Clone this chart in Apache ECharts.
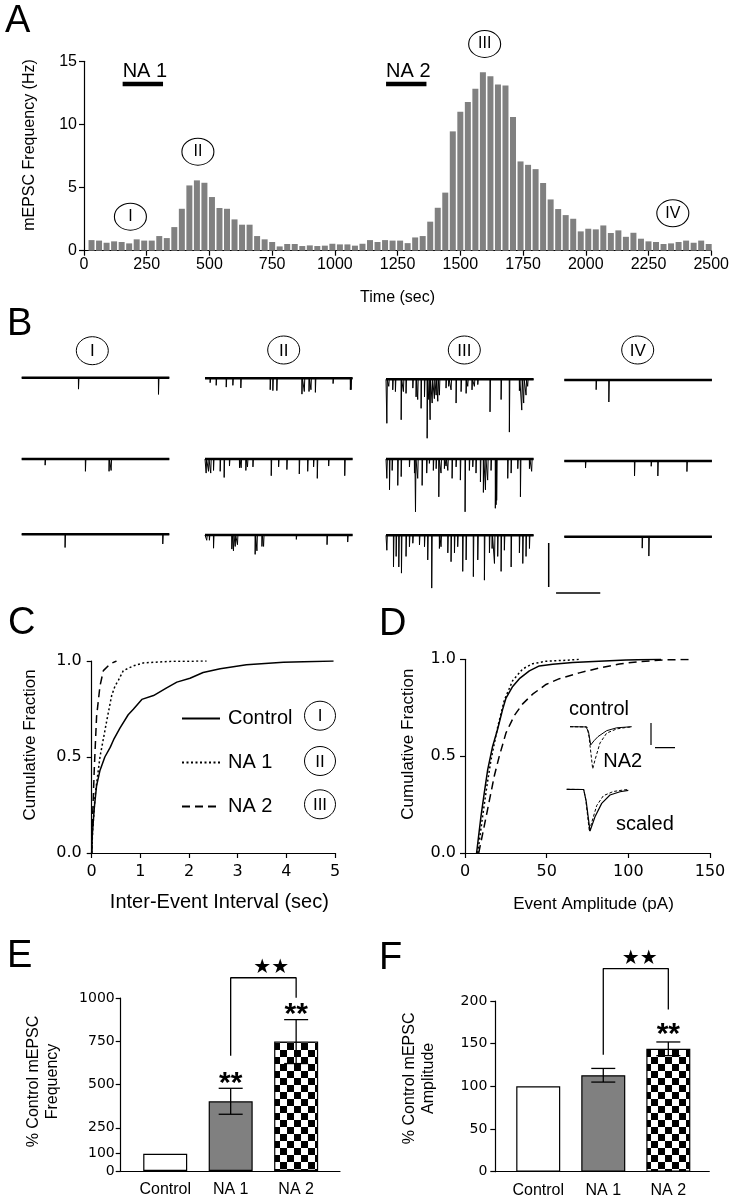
<!DOCTYPE html>
<html><head><meta charset="utf-8">
<script src="https://cdn.jsdelivr.net/npm/echarts@6/dist/echarts.min.js"></script>
<style>html,body{margin:0;padding:0;background:#fff}#c{width:732px;height:1199px}</style>
</head><body><div id="c"></div>
<script>
// ===== Panel A: mEPSC frequency histogram (30 s bins) =====
const binTimes = [30,60,90,120,150,180,210,240,270,300,330,360,390,420,450,480,510,540,570,600,630,660,690,720,750,780,810,840,870,900,930,960,990,1020,1050,1080,1110,1140,1170,1200,1230,1260,1290,1320,1350,1380,1410,1440,1470,1500,1530,1560,1590,1620,1650,1680,1710,1740,1770,1800,1830,1860,1890,1920,1950,1980,2010,2040,2070,2100,2130,2160,2190,2220,2250,2280,2310,2340,2370,2400,2430,2460,2490];
const freqHz = [0.84,0.8,0.63,0.74,0.69,0.58,0.9,0.8,0.8,1.16,1.0,1.87,3.32,5.17,5.57,5.38,4.25,3.38,3.32,2.48,2.06,2.06,1.16,0.9,0.69,0.34,0.53,0.53,0.37,0.42,0.37,0.4,0.55,0.5,0.5,0.4,0.55,0.84,0.69,0.84,0.8,0.8,0.6,1.05,1.16,2.3,3.4,4.6,9.45,11.0,11.77,12.82,14.14,13.82,13.17,13.09,10.58,7.07,6.8,6.46,5.36,4.06,3.3,2.82,2.53,1.53,1.74,1.69,2.0,1.4,1.61,1.1,1.42,0.95,0.74,0.69,0.53,0.58,0.69,0.8,0.63,0.8,0.53];
const naNames = ['NA 1','NA 2'];
const naStart = [154, 1204];
const naEnd = [315, 1365];
const naLevel = 13.2;
const epochNames = ['I','II','III','IV'];
const epochTime = [185, 454, 1597, 2347];
const epochLevel = [2.69, 7.84, 16.37, 2.96];

// ===== Panel B: example traces, spikes as [time ms, amplitude pA] =====
const spikesI = [
 [[384,13],[926,19]],
 [[158,7],[431,14],[591,14],[605,13]],
 [[293,15],[955,11]]
];
const spikesII = [
 [[34,5],[75,8],[143,10],[188,8],[242,11],[441,13],[459,14],[486,14],[656,18],[672,15],[704,15],[717,13],[747,16],[867,6],[984,13],[989,13]],
 [[7,16],[23,14],[38,16],[57,13],[102,14],[129,21],[165,8],[233,10],[244,10],[276,13],[287,9],[324,9],[448,19],[498,9],[554,12],[638,17],[695,14],[735,9],[760,22],[837,8],[946,19]],
 [[11,6],[29,6],[57,15],[181,16],[192,18],[204,13],[219,11],[339,22],[351,18],[385,13],[396,13],[618,5],[826,11],[966,8]]
];
const spikesIII = [
 [[5,50],[18,8],[45,12],[63,14],[102,46],[117,14],[135,16],[181,10],[203,20],[214,23],[237,33],[260,20],[278,67],[289,23],[298,46],[312,27],[327,22],[339,18],[350,25],[361,18],[406,10],[424,8],[440,12],[474,27],[508,14],[542,16],[553,8],[582,12],[598,8],[621,6],[704,37],[779,23],[835,60],[903,13],[919,35],[932,27],[948,18],[959,8]],
 [[5,22],[23,35],[41,13],[79,30],[102,20],[158,9],[192,16],[199,60],[214,22],[244,30],[275,16],[293,5],[320,13],[339,11],[357,43],[372,16],[395,11],[406,8],[418,13],[447,22],[474,9],[503,24],[535,60],[564,13],[587,9],[609,16],[639,26],[659,38],[673,35],[688,24],[711,13],[740,56],[745,52],[749,47],[824,22],[847,16],[892,11],[910,43],[971,11],[986,14]],
 [[5,17],[50,36],[68,24],[86,36],[104,43],[135,24],[158,13],[181,9],[226,11],[260,13],[282,28],[309,60],[361,15],[372,13],[418,20],[440,30],[463,20],[485,13],[519,41],[542,28],[591,47],[621,28],[666,51],[700,20],[718,15],[734,32],[756,24],[779,41],[801,17],[847,36],[903,20],[926,32],[948,24],[971,15]]
];
const spikesIV = [
 [[215,11],[301,25]],
 [[143,8],[475,17],[588,6],[633,17],[830,12]],
 [[527,13],[572,22]]
];
const traceScalePA = 50;
const traceScaleMs = 300;

// ===== Panel C: inter-event interval cumulative fractions =====
const ieiControl = [[0,0],[0.014,0.10],[0.055,0.24],[0.10,0.35],[0.17,0.43],[0.27,0.50],[0.38,0.55],[0.45,0.59],[0.58,0.65],[0.75,0.72],[0.86,0.75],[1.03,0.80],[1.27,0.82],[1.54,0.86],[1.75,0.89],[2.02,0.91],[2.29,0.94],[2.64,0.96],[3.18,0.98],[3.94,0.993],[4.97,1.0]];
const ieiNA1 = [[0,0],[0.02,0.12],[0.07,0.3],[0.17,0.5],[0.31,0.69],[0.41,0.82],[0.48,0.87],[0.55,0.9],[0.65,0.95],[0.86,0.975],[1.06,0.99],[1.6,0.998],[2.36,1.0]];
const ieiNA2 = [[0,0],[0.02,0.2],[0.055,0.45],[0.10,0.71],[0.17,0.87],[0.24,0.95],[0.38,0.985],[0.51,1.0]];
const legendNames = ['Control','NA 1','NA 2'];

// ===== Panel D: event amplitude cumulative fractions + averaged events =====
const ampControl = [[7.1,0],[9.8,0.19],[11.8,0.31],[13.9,0.43],[16.9,0.55],[20,0.64],[23,0.74],[25.1,0.8],[29.2,0.86],[33.3,0.9],[39.4,0.94],[45.5,0.966],[53.7,0.974],[65.9,0.983],[82,0.99],[98.6,0.997],[120,1.0]];
const ampNA1 = [[7.8,0],[10.8,0.19],[13.3,0.34],[15.9,0.48],[20,0.65],[24.1,0.79],[29.2,0.89],[35.3,0.95],[41.4,0.977],[49.6,0.99],[61.8,0.995],[70,1.0]];
const ampNA2 = [[8.4,0],[11.8,0.14],[14.9,0.27],[18,0.4],[21,0.5],[25.1,0.62],[30.2,0.71],[35.3,0.77],[41.4,0.82],[49.6,0.87],[57.8,0.9],[70,0.93],[82.2,0.955],[94.5,0.976],[106.7,0.988],[123,0.997],[139.4,1.0]];
const wfControl = [[0,0],[8,-0.1],[9.25,-2.3],[10.35,-8.3],[12,-6.4],[14,-4.5],[18.35,-1.8],[23.35,-0.5],[30.85,0]];
const wfNA2 = [[0,0],[8.5,-0.1],[9.5,-4.5],[11.35,-19.2],[12.5,-15.1],[15,-7.4],[18.35,-2.9],[23.35,-1.0],[28.35,-0.3],[30.85,-0.1]];
const wfScaled = [[0,0],[8.5,-0.1],[9.75,-5.5],[11.65,-19.0],[14.15,-12.5],[17.5,-6.4],[21.65,-2.6],[26.65,-1.1],[30.8,-0.5]];
const insetScalePA = 10;
const insetScaleMs = 10;

// ===== Panels E, F: % control bars =====
const groups = ['Control','NA 1','NA 2'];
const freqPct = [100, 403, 748];
const freqSem = [0, 75, 127];
const ampPct = [100, 113, 144];
const ampSem = [0, 8, 8];
const sigMarks = ['', '**', '**'];
const sigMarksF = ['', '', '**'];
const bracketE = [666, 1117, 1002];
const bracketF = [137, 238, 190];
const pairStarE = [2.62, 1176];
const pairStarF = [2.56, 249];

// ================= layout / styling =================
const FM = "'Liberation Sans', Arial, Helvetica, sans-serif";
const FN = "'DejaVu Sans', 'Liberation Sans', sans-serif";
const BLACK = '#000';
const plain = v => String(v);
const axLine = {show:true, onZero:false, lineStyle:{color:BLACK, width:1.2}};
const axTick = {show:true, inside:false, length:5, lineStyle:{color:BLACK, width:1.2}};
const noSplit = {show:false};

const grids = [], xAxes = [], yAxes = [], series = [];
function addGrid(g){ grids.push(g); return grids.length-1; }
function hiddenAxes(gi, xmin, xmax, ymin, ymax){
  xAxes.push({gridIndex:gi, type:'value', min:xmin, max:xmax, show:false});
  yAxes.push({gridIndex:gi, type:'value', min:ymin, max:ymax, show:false});
  return xAxes.length-1;
}

// ---- Panel A
const gA = addGrid({left:84, top:61.3, width:630.3, height:189.4});
xAxes.push({gridIndex:gA, type:'value', min:0, max:2500, interval:250, axisLine:axLine, axisTick:axTick, splitLine:noSplit,
  axisLabel:{fontFamily:FM, fontSize:16, color:BLACK, margin:6, formatter:plain},
  name:'Time (sec)', nameLocation:'middle', nameGap:39, nameTextStyle:{fontFamily:FM, fontSize:16, color:BLACK}});
yAxes.push({gridIndex:gA, type:'value', min:0, max:15, interval:5, axisLine:axLine, axisTick:axTick, splitLine:noSplit,
  axisLabel:{fontFamily:FM, fontSize:16, color:BLACK, margin:7, formatter:plain},
  name:'mEPSC Frequency (Hz)', nameLocation:'middle', nameGap:46, nameRotate:90,
  nameTextStyle:{fontFamily:FM, fontSize:16, color:BLACK, padding:[0,0,0,22]}});
series.push({type:'bar', xAxisIndex:gA, yAxisIndex:gA, barWidth:6, data:binTimes.map((t,i)=>[t,freqHz[i]]),
  itemStyle:{color:'#808080'}, silent:true});
naNames.forEach((n,i)=>{
  series.push({type:'line', xAxisIndex:gA, yAxisIndex:gA, symbol:'none', clip:false, silent:true,
    data:[[naStart[i],naLevel],[naEnd[i],naLevel]], lineStyle:{color:BLACK, width:4.5}});
  series.push({type:'scatter', xAxisIndex:gA, yAxisIndex:gA, symbolSize:0, clip:false, silent:true,
    itemStyle:{opacity:1}, data:[[naStart[i],naLevel]],
    label:{show:true, formatter:n, position:[0,-3], align:'left', verticalAlign:'bottom', fontFamily:FM, fontSize:20, color:BLACK}});
});
series.push({type:'scatter', xAxisIndex:gA, yAxisIndex:gA, clip:false, silent:true, z:5,
  symbol:'circle', symbolSize:[32,27],
  itemStyle:{color:'#fff', borderColor:BLACK, borderWidth:1, opacity:1},
  data:epochNames.map((n,i)=>({name:n, value:[epochTime[i], epochLevel[i]]})),
  label:{show:true, position:'inside', formatter:'{b}', fontFamily:FM, fontSize:16, color:BLACK}});

// ---- Panel B traces
const colSpikes = [spikesI, spikesII, spikesIII, spikesIV];
const colLeft = [21.7, 205, 386, 564.3];
const colBase = [[377.7,459,534.3],[378.3,459,535],[379.3,459,535.3],[380,461,536.7]];
const pxPerPA = 0.88;
function traceLine(sp){
  const pts=[[0,0]];
  sp.forEach(([t,a])=>{ pts.push([t,0],[t+0.8,-a],[t+4,0]); });
  pts.push([1000,0]);
  return pts;
}
colSpikes.forEach((col,c)=>{
  col.forEach((sp,r)=>{
    const gi = addGrid({left:colLeft[c], top:colBase[c][r]-5*pxPerPA, width:147.6, height:75*pxPerPA});
    const ai = hiddenAxes(gi, 0, 1000, -70, 5);
    series.push({type:'line', xAxisIndex:ai, yAxisIndex:ai, symbol:'none', silent:true, clip:false,
      data:[[0,0],[1000,0]], lineStyle:{color:BLACK, width:2.6}});
    series.push({type:'line', xAxisIndex:ai, yAxisIndex:ai, symbol:'none', silent:true, clip:false,
      data:traceLine(sp), lineStyle:{color:BLACK, width:1}});
  });
});
// B scale bars
{
  const gi = addGrid({left:548.7, top:543, width:52.3, height:44});
  const ai = hiddenAxes(gi, 0, 355, -traceScalePA, 0);
  series.push({type:'line', xAxisIndex:ai, yAxisIndex:ai, symbol:'none', silent:true, clip:false,
    data:[[0,0],[0,-traceScalePA]], lineStyle:{color:BLACK, width:1.5}});
  series.push({type:'line', xAxisIndex:ai, yAxisIndex:ai, symbol:'none', silent:true, clip:false,
    data:[[50,-56.8],[50+traceScaleMs,-56.8]], lineStyle:{color:BLACK, width:1.5}});
}

// ---- Panel C
const gC = addGrid({left:91.7, top:661, width:243.3, height:192});
xAxes.push({gridIndex:gC, type:'value', min:0, max:5, interval:1, axisLine:axLine, axisTick:axTick, splitLine:noSplit,
  axisLabel:{fontFamily:FN, fontSize:16, color:BLACK, margin:11},
  name:'Inter-Event Interval (sec)', nameLocation:'middle', nameGap:39,
  nameTextStyle:{fontFamily:FM, fontSize:20, color:BLACK, padding:[0,0,0,12]}});
yAxes.push({gridIndex:gC, type:'value', min:0, max:1, interval:0.5, axisLine:axLine, axisTick:axTick, splitLine:noSplit,
  axisLabel:{fontFamily:FN, fontSize:16, color:BLACK, margin:10, formatter:v=>v.toFixed(1)},
  name:'Cumulative Fraction', nameLocation:'middle', nameGap:53, nameRotate:90,
  nameTextStyle:{fontFamily:FM, fontSize:17, color:BLACK, padding:[0,0,0,24]}});
const cxi = xAxes.length-1;
const cStyles = [{type:'solid'},{type:[2,2.5]},{type:[8,5]}];
[ieiControl, ieiNA1, ieiNA2].forEach((d,i)=>{
  series.push({type:'line', name:legendNames[i], xAxisIndex:cxi, yAxisIndex:cxi, symbol:'none', silent:true,
    data:d, lineStyle:Object.assign({color:BLACK, width:1.5}, cStyles[i]), itemStyle:{color:BLACK}});
});

// ---- Panel D
const gD = addGrid({left:465, top:659.3, width:245, height:193.7});
xAxes.push({gridIndex:gD, type:'value', min:0, max:150, interval:50, axisLine:axLine, axisTick:axTick, splitLine:noSplit,
  axisLabel:{fontFamily:FN, fontSize:16, color:BLACK, margin:11},
  name:'Event Amplitude (pA)', nameLocation:'middle', nameGap:43,
  nameTextStyle:{fontFamily:FM, fontSize:17, color:BLACK, padding:[0,0,0,12]}});
yAxes.push({gridIndex:gD, type:'value', min:0, max:1, interval:0.5, axisLine:axLine, axisTick:axTick, splitLine:noSplit,
  axisLabel:{fontFamily:FN, fontSize:16, color:BLACK, margin:9, formatter:v=>v.toFixed(1)},
  name:'Cumulative Fraction', nameLocation:'middle', nameGap:48, nameRotate:90,
  nameTextStyle:{fontFamily:FM, fontSize:17, color:BLACK, padding:[0,0,0,24]}});
const dxi = xAxes.length-1;
[ampControl, ampNA1, ampNA2].forEach((d,i)=>{
  series.push({type:'line', name:'amp '+legendNames[i], xAxisIndex:dxi, yAxisIndex:dxi, symbol:'none', silent:true,
    data:d, lineStyle:Object.assign({color:BLACK, width:1.5}, cStyles[i])});
});
// D insets
{
  const g1 = addGrid({left:570, top:722.3, width:62, height:52.8});
  const a1 = hiddenAxes(g1, 0, 31, -22, 2);
  series.push({type:'line', xAxisIndex:a1, yAxisIndex:a1, symbol:'none', silent:true, clip:false, data:wfControl, lineStyle:{color:BLACK, width:1}});
  series.push({type:'line', xAxisIndex:a1, yAxisIndex:a1, symbol:'none', silent:true, clip:false, data:wfNA2, lineStyle:{color:BLACK, width:1, type:[3,2]}});
  const g2 = addGrid({left:566.7, top:784.9, width:62, height:52.8});
  const a2 = hiddenAxes(g2, 0, 31, -22, 2);
  series.push({type:'line', xAxisIndex:a2, yAxisIndex:a2, symbol:'none', silent:true, clip:false, data:wfScaled, lineStyle:{color:BLACK, width:1.2}});
  series.push({type:'line', xAxisIndex:a2, yAxisIndex:a2, symbol:'none', silent:true, clip:false, data:wfNA2, lineStyle:{color:BLACK, width:1, type:[3,2]}});
  const g3 = addGrid({left:651, top:723, width:24, height:22});
  const a3 = hiddenAxes(g3, 0, 12, -insetScalePA, 0);
  series.push({type:'line', xAxisIndex:a3, yAxisIndex:a3, symbol:'none', silent:true, clip:false, data:[[0,0],[0,-insetScalePA]], lineStyle:{color:BLACK, width:1.2}});
  series.push({type:'line', xAxisIndex:a3, yAxisIndex:a3, symbol:'none', silent:true, clip:false, data:[[2,-11.2],[2+insetScaleMs,-11.2]], lineStyle:{color:BLACK, width:1.2}});
}

// ---- Panels E & F
function checker(){
  const c=document.createElement('canvas'); c.width=14; c.height=14;
  const g=c.getContext('2d'); g.fillStyle='#fff'; g.fillRect(0,0,14,14);
  g.fillStyle='#000'; g.fillRect(0,0,7,7); g.fillRect(7,7,7,7); return c;
}
const barStyles = [
  {color:'#fff', borderColor:BLACK, borderWidth:1.2},
  {color:'#808080', borderColor:BLACK, borderWidth:1.2},
  {color:{image:checker(), repeat:'repeat'}, borderColor:BLACK, borderWidth:1.2}
];
function errRender(params, api){
  const x=api.value(0), m=api.value(1), s=api.value(2);
  if(!s) return null;
  const t=api.coord([x,m+s]), b=api.coord([x,m-s]), hw=12;
  const st={stroke:BLACK, lineWidth:1.3};
  return {type:'group', children:[
    {type:'line', shape:{x1:t[0],y1:t[1],x2:b[0],y2:b[1]}, style:st},
    {type:'line', shape:{x1:t[0]-hw,y1:t[1],x2:t[0]+hw,y2:t[1]}, style:st},
    {type:'line', shape:{x1:b[0]-hw,y1:b[1],x2:b[0]+hw,y2:b[1]}, style:st}
  ]};
}
function sigRender(off){
  return function(params, api){
    const x=api.value(0), m=api.value(1), s=api.value(2);
    const p=api.coord([x,m+s]);
    return {type:'text', x:p[0], y:p[1]-off, style:{text:api.value(3), font:'bold 30px '+FM, fill:BLACK, align:'center', verticalAlign:'middle'}};
  };
}
function barPanel(gridOpt, vals, sems, marks, yTicks, yMax, yName, namePad, nameGap, lblMargin, xmin, xmax, bracket, pairStar, sigOff){
  const gi = addGrid(gridOpt);
  xAxes.push({gridIndex:gi, type:'value', min:xmin, max:xmax, axisLine:axLine, axisTick:{show:false}, splitLine:noSplit,
    axisLabel:{customValues:[1,2,3], formatter:v=>groups[Math.round(v)-1], fontFamily:FM, fontSize:16, color:BLACK, margin:11}});
  yAxes.push({gridIndex:gi, type:'value', min:0, max:yMax, axisLine:axLine, splitLine:noSplit,
    axisTick:Object.assign({customValues:yTicks}, axTick),
    axisLabel:{customValues:yTicks, formatter:plain, fontFamily:FN, fontSize:14, color:BLACK, margin:lblMargin},
    name:yName, nameLocation:'middle', nameGap:nameGap, nameRotate:90,
    nameTextStyle:{fontFamily:FM, fontSize:16, lineHeight:19, color:BLACK, align:'center', padding:[0,0,0,namePad]}});
  const ai = xAxes.length-1;
  series.push({type:'bar', xAxisIndex:ai, yAxisIndex:ai, barWidth:44, silent:true,
    data:groups.map((g,i)=>({value:[i+1, vals[i]], itemStyle:barStyles[i]}))});
  series.push({type:'custom', xAxisIndex:ai, yAxisIndex:ai, silent:true, clip:false, z:4,
    data:groups.map((g,i)=>[i+1, vals[i], sems[i]]), renderItem:errRender});
  series.push({type:'custom', xAxisIndex:ai, yAxisIndex:ai, silent:true, clip:false, z:4,
    data:groups.map((g,i)=>[i+1, vals[i], sems[i], marks[i]]).filter(d=>d[3]), renderItem:sigRender(sigOff)});
  series.push({type:'line', xAxisIndex:ai, yAxisIndex:ai, symbol:'none', silent:true, clip:false,
    data:[[2,bracket[0]],[2,bracket[1]],[3,bracket[1]],[3,bracket[2]]], lineStyle:{color:BLACK, width:1.3}});
  series.push({type:'scatter', xAxisIndex:ai, yAxisIndex:ai, symbolSize:0, silent:true, clip:false, itemStyle:{opacity:1},
    data:[pairStar], label:{show:true, position:[0,0], formatter:'\u2605\u2605', align:'center', verticalAlign:'middle', fontFamily:FN, fontSize:20, color:BLACK}});
}
barPanel({left:120.7, top:998, width:219.3, height:173}, freqPct, freqSem, sigMarks, [0,100,250,500,750,1000], 1000,
  '% Control mEPSC\nFrequency', 6, 59, 6, 0.32, 3.67, bracketE, pairStarE, 5);
barPanel({left:495.3, top:1001, width:214, height:170.7}, ampPct, ampSem, sigMarksF, [0,50,100,150,200], 200,
  '% Control mEPSC\nAmplitude', 16, 57, 8, 0.34, 3.63, bracketF, pairStarF, 7);

// ---- annotations (panel letters, circled epochs, inset labels)
const graphic = [];
[['A',5,20],['B',7,323],['C',8,621.5],['D',379,622.5],['E',7,955],['F',379,956.5]].forEach(([t,x,y])=>{
  graphic.push({type:'text', x:x, y:y+2, style:{text:t, font:'38px '+FM, fill:BLACK, verticalAlign:'middle'}});
});
function circled(t,cx,cy,rx,ry,fs){
  graphic.push({type:'ellipse', shape:{cx:cx, cy:cy, rx:rx, ry:ry}, style:{fill:'#fff', stroke:BLACK, lineWidth:1}});
  graphic.push({type:'text', x:cx, y:cy+1, style:{text:t, font:fs+'px '+FM, fill:BLACK, align:'center', verticalAlign:'middle'}});
}
[[92.3,350.7],[283.7,350],[464.3,350],[637.7,350]].forEach((p,i)=>circled(epochNames[i], p[0], p[1], 16, 14, 17));
[[320,715.7],[320,761],[320,804.3]].forEach((p,i)=>circled(epochNames[i], p[0], p[1], 15.5, 14.5, 17));
[['control',569,709],['NA2',603.3,761],['scaled',616,824]].forEach(([t,x,y])=>{
  graphic.push({type:'text', x:x, y:y, style:{text:t, font:'20px '+FM, fill:BLACK, verticalAlign:'middle'}});
});

const option = {
  animation:false,
  backgroundColor:'#fff',
  grid:grids, xAxis:xAxes, yAxis:yAxes, series:series, graphic:graphic,
  legend:{data:legendNames, orient:'vertical', left:176, top:703.5, itemWidth:38, itemHeight:14, itemGap:24,
    selectedMode:false, textStyle:{fontFamily:FM, fontSize:20, color:BLACK, padding:[0,0,0,3]},
    itemStyle:{opacity:0}}
};
const chart = echarts.init(document.getElementById('c'), null, {renderer:'canvas', width:732, height:1199});
chart.setOption(option);
</script></body></html>
